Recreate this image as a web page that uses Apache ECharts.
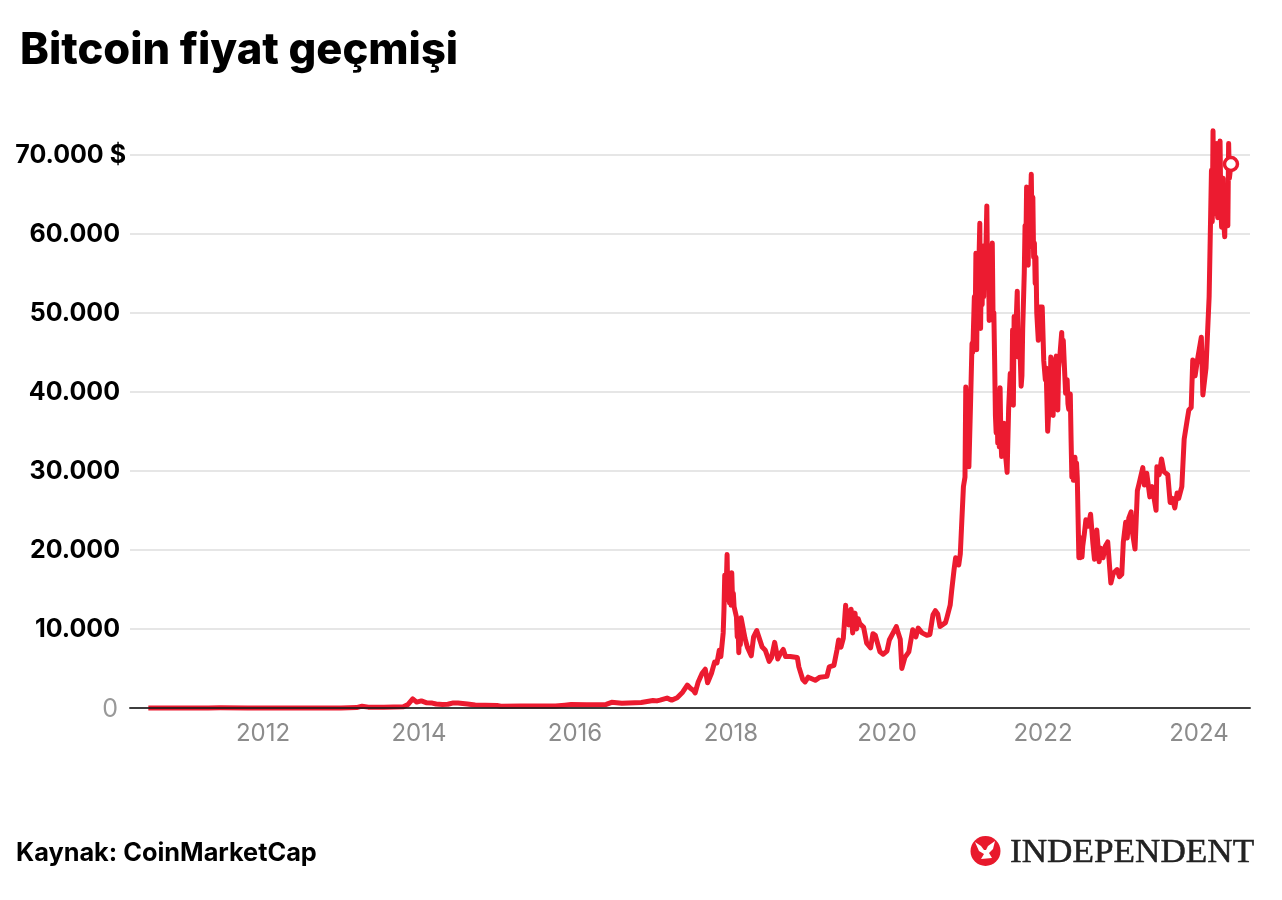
<!DOCTYPE html>
<html>
<head>
<meta charset="utf-8">
<title>Bitcoin fiyat geçmişi</title>
<style>
    html, body { margin: 0; padding: 0; background: #fff; }
    #chart { width: 1282px; height: 900px; }
</style>
<script src="https://cdn.jsdelivr.net/npm/echarts@6/dist/echarts.min.js"></script>
</head>
<body>
<div id="chart"></div>
<script>
/* values: x in decimal years, y in dollars */
const earlyYears = [2010.53, 2010.8, 2011.0, 2011.3, 2011.45, 2011.8, 2012.0, 2012.6, 2013.0, 2013.2, 2013.27, 2013.35, 2013.55, 2013.8, 2013.86, 2013.92, 2013.97, 2014.03, 2014.1, 2014.17, 2014.22, 2014.3, 2014.37, 2014.44, 2014.5, 2014.62, 2014.72, 2014.85, 2015.0, 2015.05, 2015.3, 2015.55, 2015.75, 2015.87, 2015.95, 2016.15, 2016.4, 2016.47, 2016.6, 2016.85, 2017.0, 2017.05];
const earlyPrices = [0, 0, 0, 1, 20, 3, 5, 10, 13, 50, 230, 110, 85, 150, 450, 1150, 750, 900, 650, 620, 500, 450, 470, 640, 620, 500, 370, 360, 310, 220, 240, 260, 240, 350, 430, 400, 450, 720, 610, 700, 950, 900];

const rallyYears = [2017.09, 2017.18, 2017.24, 2017.31, 2017.38, 2017.44, 2017.48, 2017.52, 2017.54, 2017.58, 2017.63, 2017.67, 2017.70, 2017.75, 2017.79, 2017.82, 2017.85, 2017.87, 2017.90, 2017.91, 2017.92, 2017.94, 2017.95, 2017.96, 2017.97, 2017.98, 2017.99, 2018.00, 2018.01, 2018.02, 2018.03, 2018.04, 2018.07, 2018.08, 2018.09, 2018.10, 2018.11, 2018.12, 2018.13, 2018.15, 2018.18, 2018.21, 2018.26, 2018.29, 2018.33, 2018.40, 2018.44, 2018.49, 2018.52, 2018.56, 2018.60, 2018.64, 2018.67, 2018.70, 2018.76, 2018.85, 2018.87, 2018.92, 2018.95, 2018.99];
const rallyPrices = [1000, 1250, 1000, 1300, 2000, 2900, 2500, 2200, 1900, 3300, 4400, 4900, 3200, 4400, 5800, 5700, 7300, 6500, 9500, 12400, 16800, 15800, 19400, 13700, 16000, 13300, 17000, 13000, 17100, 13500, 14500, 12800, 11500, 9000, 10500, 7000, 9500, 8000, 11400, 11400, 8800, 7700, 6600, 9000, 9800, 7700, 7300, 5900, 6400, 8300, 6200, 7000, 7400, 6500, 6500, 6400, 5200, 3600, 3300, 3900];

const midYears = [2019.08, 2019.14, 2019.23, 2019.26, 2019.32, 2019.36, 2019.38, 2019.41, 2019.44, 2019.47, 2019.48, 2019.50, 2019.51, 2019.54, 2019.56, 2019.59, 2019.61, 2019.63, 2019.65, 2019.70, 2019.74, 2019.79, 2019.82, 2019.85, 2019.91, 2019.95, 2020.00, 2020.03, 2020.12, 2020.14, 2020.17, 2020.19, 2020.23, 2020.28, 2020.33, 2020.37, 2020.40, 2020.45, 2020.51, 2020.55, 2020.59, 2020.62, 2020.65, 2020.68, 2020.75, 2020.77, 2020.81];
const midPrices = [3500, 3900, 4000, 5200, 5400, 7400, 8600, 7700, 8800, 13000, 10800, 12300, 10500, 12500, 9500, 12000, 10000, 11300, 10700, 10200, 8200, 7600, 9400, 9200, 7100, 6800, 7200, 8600, 10300, 9600, 8700, 5000, 6400, 7100, 9900, 9000, 10100, 9500, 9200, 9300, 11800, 12300, 11900, 10300, 10800, 11500, 13000];

const bullYears = [2020.83, 2020.86, 2020.88, 2020.92, 2020.94, 2020.96, 2020.98, 2021.00, 2021.01, 2021.03, 2021.05, 2021.07, 2021.09, 2021.10, 2021.12, 2021.13, 2021.14, 2021.15, 2021.16, 2021.17, 2021.18, 2021.19, 2021.20, 2021.21, 2021.22, 2021.23, 2021.24, 2021.25, 2021.26, 2021.27, 2021.28, 2021.29, 2021.30, 2021.31, 2021.32, 2021.33, 2021.34, 2021.35, 2021.36, 2021.37, 2021.38, 2021.39, 2021.40, 2021.41, 2021.42, 2021.43, 2021.44, 2021.45, 2021.46, 2021.47, 2021.48, 2021.49, 2021.50, 2021.52, 2021.54, 2021.56, 2021.58, 2021.60, 2021.61, 2021.62, 2021.63, 2021.64, 2021.66, 2021.67, 2021.68, 2021.70, 2021.72, 2021.73, 2021.74, 2021.76, 2021.77, 2021.78, 2021.79, 2021.80, 2021.81, 2021.82, 2021.83, 2021.84, 2021.85, 2021.86, 2021.87, 2021.88, 2021.89, 2021.90, 2021.91, 2021.92, 2021.94, 2021.96, 2021.99, 2022.01, 2022.03, 2022.04, 2022.06, 2022.07, 2022.08, 2022.09, 2022.10, 2022.11, 2022.12, 2022.13, 2022.14, 2022.15, 2022.16, 2022.17, 2022.18, 2022.19, 2022.20, 2022.22, 2022.24, 2022.25, 2022.26, 2022.28, 2022.29, 2022.31, 2022.32, 2022.33, 2022.35, 2022.36, 2022.37];
const bullPrices = [14900, 17500, 19000, 18100, 19500, 23800, 28000, 29200, 40600, 36000, 30500, 38000, 46100, 45000, 52000, 48000, 57500, 45300, 55000, 48000, 57000, 61300, 48000, 57000, 51000, 58000, 52000, 58500, 54000, 59000, 63500, 54000, 58000, 49000, 57000, 50000, 56000, 58800, 49000, 50000, 44000, 37000, 34800, 39000, 33500, 38000, 33000, 40500, 34000, 31800, 36000, 33000, 36000, 32000, 29800, 38000, 42300, 39000, 47800, 38300, 49500, 46000, 50000, 52700, 44400, 47000, 40700, 42000, 48000, 55000, 61000, 58000, 65900, 60000, 56000, 63000, 58300, 64000, 67500, 60000, 64600, 57000, 58800, 53700, 57000, 50000, 46500, 50700, 50700, 43900, 41500, 43000, 35000, 36800, 42000, 37500, 44400, 38000, 43500, 37000, 42500, 38500, 44000, 44500, 38000, 37700, 43000, 45000, 47500, 44000, 46500, 42000, 39800, 41500, 38500, 37800, 39700, 34000, 29200];

const bearYears = [2022.38, 2022.39, 2022.40, 2022.41, 2022.42, 2022.43, 2022.44, 2022.46, 2022.47, 2022.48, 2022.49, 2022.50, 2022.51, 2022.53, 2022.55, 2022.58, 2022.61, 2022.64, 2022.66, 2022.69, 2022.72, 2022.74, 2022.77, 2022.80, 2022.83, 2022.87, 2022.90, 2022.95, 2022.98, 2023.01, 2023.03, 2023.06, 2023.08, 2023.10, 2023.13, 2023.15, 2023.18, 2023.21, 2023.23, 2023.28, 2023.30, 2023.33, 2023.37, 2023.40, 2023.45, 2023.46, 2023.49, 2023.52, 2023.55, 2023.60, 2023.63, 2023.66, 2023.69, 2023.72, 2023.74, 2023.78];
const bearPrices = [31000, 28800, 31000, 31700, 28800, 31000, 29000, 19000, 21500, 19000, 21500, 19100, 20500, 22000, 23800, 23000, 24500, 20800, 18800, 22500, 18500, 20200, 19000, 20500, 21000, 15800, 17000, 17500, 16600, 16900, 21000, 23500, 21500, 24000, 24800, 22000, 20100, 27500, 28300, 30400, 28200, 29700, 26700, 28000, 25000, 30500, 29500, 31500, 29900, 29500, 26000, 26500, 25300, 27200, 26500, 28000];

const lateYears = [2023.81, 2023.85, 2023.87, 2023.90, 2023.92, 2023.95, 2023.98, 2024.03, 2024.05, 2024.09, 2024.13, 2024.15, 2024.16, 2024.17, 2024.18, 2024.19, 2024.20, 2024.21, 2024.22, 2024.23, 2024.24, 2024.25, 2024.26, 2024.27, 2024.28, 2024.29, 2024.30, 2024.31, 2024.32, 2024.33, 2024.34, 2024.35, 2024.36, 2024.37, 2024.38, 2024.39, 2024.41];
const latePrices = [34000, 36500, 37700, 38000, 44000, 42000, 44000, 46900, 39600, 43000, 52000, 62600, 68000, 61500, 73000, 63000, 62500, 70000, 65000, 71400, 62000, 70000, 66000, 71700, 63500, 60800, 66000, 67000, 61000, 59600, 66000, 61000, 65900, 61000, 71400, 67000, 68800];

const years = [].concat(earlyYears, rallyYears, midYears, bullYears, bearYears, lateYears);
const prices = [].concat(earlyPrices, rallyPrices, midPrices, bullPrices, bearPrices, latePrices);

const tickYears = [2012, 2014, 2016, 2018, 2020, 2022, 2024];
const priceLabels = ['0', '10.000', '20.000', '30.000', '40.000', '50.000', '60.000', '70.000 $'];

const RED = '#ec1b30';
const FONT = 'Inter';

var chart = echarts.init(document.getElementById('chart'), null, { renderer: 'canvas' });
var option = {
    animation: false,
    backgroundColor: '#fff',
    title: {
        text: 'Bitcoin fiyat geçmişi',
        left: 20,
        top: 24,
        padding: 0,
        textStyle: {
            fontFamily: FONT,
            fontWeight: 800,
            fontSize: 43.5,
            lineHeight: 54,
            color: '#000'
        }
    },
    grid: {
        left: 130,
        right: 32,
        top: 154.5,
        bottom: 192
    },
    xAxis: {
        type: 'value',
        min: 2010.295,
        max: 2024.654,
        z: 10,
        splitLine: { show: false },
        axisTick: { show: false },
        axisLine: { onZero: false, lineStyle: { color: 'rgba(25,25,25,0.82)', width: 2 } },
        axisLabel: {
            customValues: tickYears,
            formatter: function (value) { return String(value); },
            margin: 14,
            fontFamily: FONT,
            fontSize: 24,
            color: '#8c8c8c'
        }
    },
    yAxis: {
        type: 'value',
        min: 0,
        max: 70000,
        interval: 10000,
        axisLine: { show: false },
        axisTick: { show: false },
        splitLine: { lineStyle: { color: '#e6e6e6', width: 2 } },
        axisLabel: {
            margin: 4,
            formatter: function (value) {
                let str = priceLabels[value / 10000];
                if (value == 0) return '{zero|' + str + '}';
                if (value == 70000) return '{top|' + str + '}';
                return '{num|' + str + '}';
            },
            rich: {
                zero: { fontFamily: FONT, fontSize: 25, color: '#999', padding: [2, 8, 0, 0] },
                num: { fontFamily: FONT, fontSize: 25, fontWeight: 700, color: '#000', padding: [2, 6, 0, 0] },
                top: { fontFamily: FONT, fontSize: 25, fontWeight: 700, color: '#000', padding: [2, 0, 0, 0] }
            }
        }
    },
    series: [
        {
            type: 'line',
            symbol: 'none',
            clip: false,
            sampling: false,
            lineStyle: { color: RED, width: 5, join: 'round' },
            data: years.map(function (year, i) { return [year, prices[i]]; }),
            z: 3
        },
        {
            type: 'scatter',
            clip: false,
            symbolSize: 13,
            itemStyle: { color: '#fff', borderColor: RED, borderWidth: 3.5, opacity: 1 },
            data: [[years[years.length - 1], prices[prices.length - 1]]],
            z: 12
        }
    ],
    graphic: [
        {
            type: 'text',
            left: 16,
            top: 841,
            style: { text: 'Kaynak: CoinMarketCap', font: '700 25.3px ' + FONT, fill: '#000' }
        },
        /* Independent logosu */
        { type: 'circle', shape: { cx: 985.5, cy: 851, r: 15 }, style: { fill: '#e8192c' } },
        {
            type: 'polygon',
            shape: { points: [[975, 842], [981, 846], [984, 850], [986, 850], [988, 846], [995, 841], [993, 849], [989, 853], [992, 858], [981, 859], [984, 854], [979, 851]] },
            style: { fill: '#fff' }
        },
        {
            type: 'text',
            x: 1010,
            y: 836,
            scaleX: 1.05,
            style: { text: 'INDEPENDENT', font: '33.5px "Liberation Serif"', fill: '#222', stroke: '#222', lineWidth: 0.5 }
        }
    ]
};
chart.setOption(option);

window.addEventListener('resize', function () {
    chart.resize();
});
</script>
</body>
</html>
